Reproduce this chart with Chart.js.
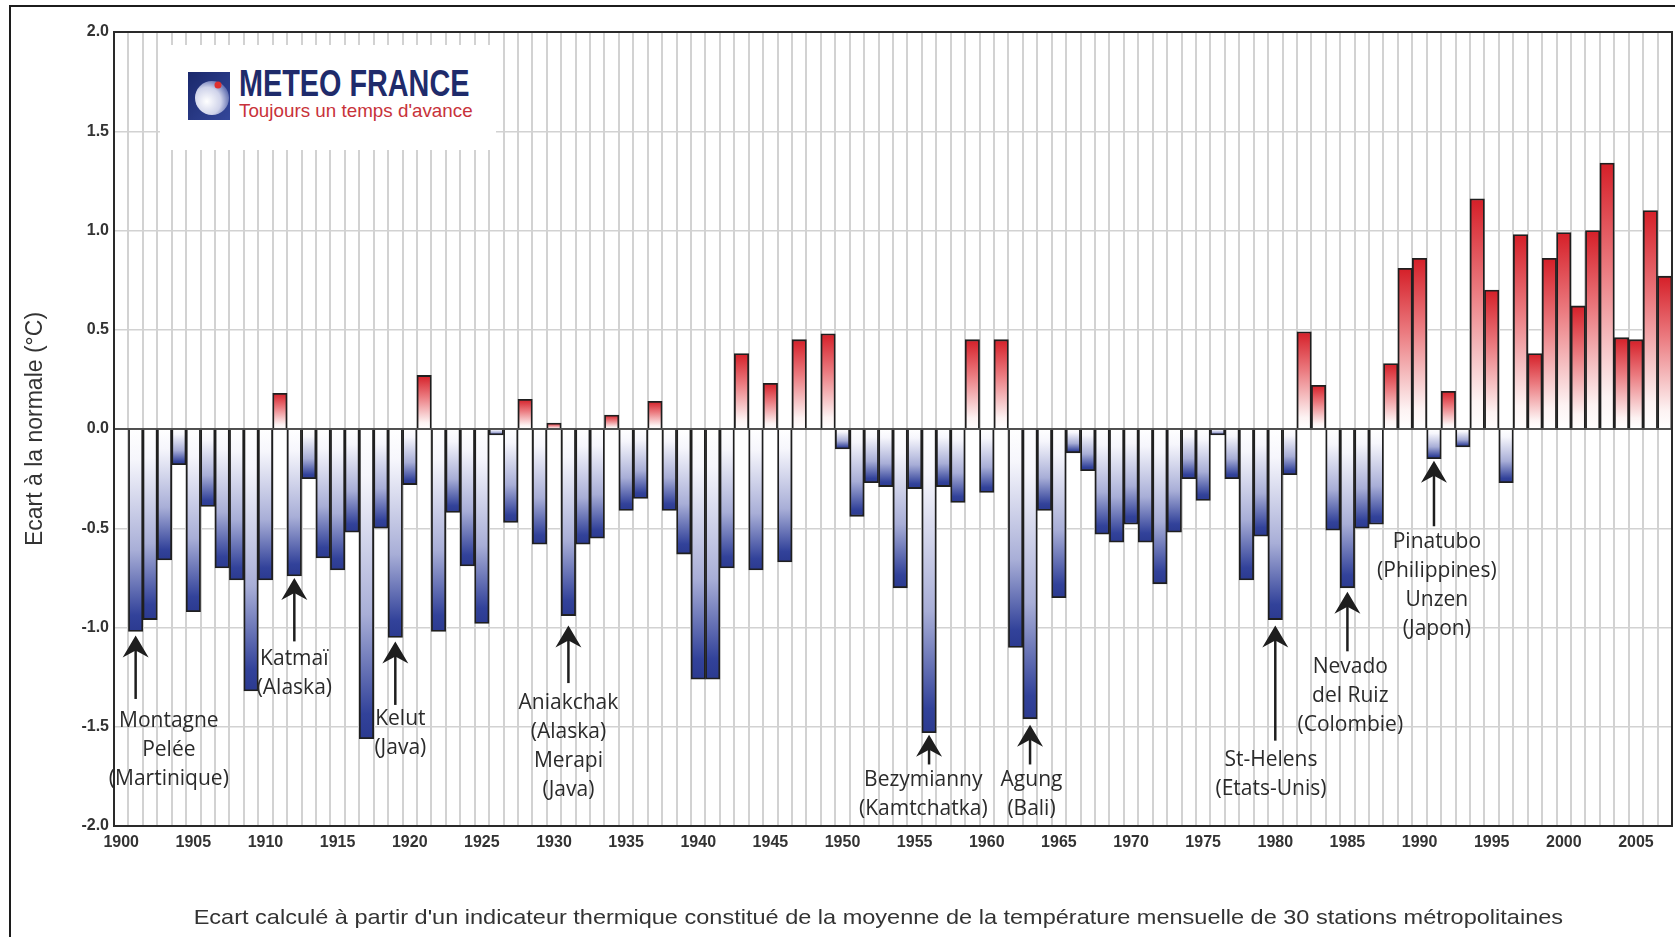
<!DOCTYPE html>
<html lang="fr">
<head>
  <meta charset="UTF-8">
  <title>Ecart à la normale de la température en France, 1900-2007</title>
  <script src="https://cdn.jsdelivr.net/npm/chart.js"></script>
  <style>
    body {
      margin: 0;
      background: #fff;
      font-family: Arial, "Liberation Sans", sans-serif;
    }
    #wrap {
      position: relative;
      width: 1675px;
      height: 937px;
      overflow: hidden;
    }
    #chart {
      position: absolute;
      left: 0;
      top: 0;
    }
    #frame {
      position: absolute;
      left: 9px;
      top: 5px;
      width: 1700px;
      height: 960px;
      border-left: 2px solid #1c1c1c;
      border-top: 2px solid #1c1c1c;
      pointer-events: none;
    }
    #logo {
      position: absolute;
      left: 160px;
      top: 45px;
      width: 336px;
      height: 105px;
      background: #fff;
    }
    #logo svg {
      position: absolute;
      left: 28px;
      top: 27px;
    }
    #logo .name {
      position: absolute;
      left: 79px;
      top: 21px;
      font: bold 36px Arial, "Liberation Sans", sans-serif;
      line-height: 36px;
      color: #1f2b6b;
      white-space: nowrap;
      transform: scaleX(0.8);
      transform-origin: left top;
    }
    #logo .motto {
      position: absolute;
      left: 79px;
      top: 55px;
      font: 19px Arial, "Liberation Sans", sans-serif;
      line-height: 22px;
      color: #c8323a;
      white-space: nowrap;
      transform: scaleX(0.99);
      transform-origin: left top;
    }
    #footer {
      position: absolute;
      left: 0;
      width: 1757px;
      top: 904px;
      text-align: center;
      font-size: 21px;
      line-height: 25px;
      color: #333;
      white-space: nowrap;
    }
    #footer span {
      display: inline-block;
      transform: scaleX(1.12);
      transform-origin: center top;
    }
  </style>
</head>
<body>
  <div id="wrap">
    <canvas id="chart" width="1675" height="937"></canvas>
    <div id="frame"></div>
    <div id="logo">
      <svg width="42" height="48" viewBox="0 0 42 48">
        <defs>
          <linearGradient id="sq" x1="0" y1="0" x2="1" y2="1">
            <stop offset="0" stop-color="#1a286b"/>
            <stop offset="1" stop-color="#34479a"/>
          </linearGradient>
          <radialGradient id="ball" cx="0.35" cy="0.6" r="0.75">
            <stop offset="0" stop-color="#ffffff"/>
            <stop offset="0.55" stop-color="#cfd3ea"/>
            <stop offset="1" stop-color="#3e4f9e"/>
          </radialGradient>
        </defs>
        <rect width="42" height="48" fill="url(#sq)"/>
        <circle cx="24" cy="26" r="17" fill="url(#ball)"/>
        <circle cx="30" cy="13" r="3.5" fill="#e0312f"/>
      </svg>
      <div class="name">METEO FRANCE</div>
      <div class="motto">Toujours un temps d'avance</div>
    </div>
    <div id="footer"><span>Ecart calculé à partir d'un indicateur thermique constitué de la moyenne de la température mensuelle de 30 stations métropolitaines</span></div>
  </div>

  <script>
    // years shown on the x axis, one bar each
    const years = [
      1900, 1901, 1902, 1903, 1904, 1905, 1906, 1907, 1908, 1909,
      1910, 1911, 1912, 1913, 1914, 1915, 1916, 1917, 1918, 1919,
      1920, 1921, 1922, 1923, 1924, 1925, 1926, 1927, 1928, 1929,
      1930, 1931, 1932, 1933, 1934, 1935, 1936, 1937, 1938, 1939,
      1940, 1941, 1942, 1943, 1944, 1945, 1946, 1947, 1948, 1949,
      1950, 1951, 1952, 1953, 1954, 1955, 1956, 1957, 1958, 1959,
      1960, 1961, 1962, 1963, 1964, 1965, 1966, 1967, 1968, 1969,
      1970, 1971, 1972, 1973, 1974, 1975, 1976, 1977, 1978, 1979,
      1980, 1981, 1982, 1983, 1984, 1985, 1986, 1987, 1988, 1989,
      1990, 1991, 1992, 1993, 1994, 1995, 1996, 1997, 1998, 1999,
      2000, 2001, 2002, 2003, 2004, 2005, 2006, 2007
    ];

    // écart à la normale (°C)
    const anomalies = [
      0, -1.02, -0.96, -0.66, -0.18, -0.92, -0.39, -0.70, -0.76, -1.32,
      -0.76, 0.18, -0.74, -0.25, -0.65, -0.71, -0.52, -1.56, -0.50, -1.05,
      -0.28, 0.27, -1.02, -0.42, -0.69, -0.98, -0.03, -0.47, 0.15, -0.58,
      0.03, -0.94, -0.58, -0.55, 0.07, -0.41, -0.35, 0.14, -0.41, -0.63,
      -1.26, -1.26, -0.70, 0.38, -0.71, 0.23, -0.67, 0.45, 0, 0.48,
      -0.10, -0.44, -0.27, -0.29, -0.80, -0.30, -1.53, -0.29, -0.37, 0.45,
      -0.32, 0.45, -1.10, -1.46, -0.41, -0.85, -0.12, -0.21, -0.53, -0.57,
      -0.48, -0.57, -0.78, -0.52, -0.25, -0.36, -0.03, -0.25, -0.76, -0.54,
      -0.96, -0.23, 0.49, 0.22, -0.51, -0.80, -0.50, -0.48, 0.33, 0.81,
      0.86, -0.15, 0.19, -0.09, 1.16, 0.70, -0.27, 0.98, 0.38, 0.86,
      0.99, 0.62, 1.00, 1.34, 0.46, 0.45, 1.10, 0.77
    ];

    const xTickLabels = ['1900', '1905', '1910', '1915', '1920', '1925', '1930', '1935', '1940', '1945', '1950',
      '1955', '1960', '1965', '1970', '1975', '1980', '1985', '1990', '1995', '2000', '2005'];
    const yTickLabels = ['-2.0', '-1.5', '-1.0', '-0.5', '0.0', '0.5', '1.0', '1.5', '2.0'];

    // eruptions pointed at on the figure (arrow and label in data units)
    const volcanoes = [
      { year: 1901, tip: -1.04, tail: -1.36, labelYear: 1903.3, labelAt: -1.47, lines: ['Montagne', 'Pelée', '(Martinique)'] },
      { year: 1912, tip: -0.75, tail: -1.07, labelYear: 1912.0, labelAt: -1.16, lines: ['Katmaï', '(Alaska)'] },
      { year: 1919, tip: -1.07, tail: -1.39, labelYear: 1919.35, labelAt: -1.46, lines: ['Kelut', '(Java)'] },
      { year: 1931, tip: -0.99, tail: -1.28, labelYear: 1931.0, labelAt: -1.38, lines: ['Aniakchak', '(Alaska)', 'Merapi', '(Java)'] },
      { year: 1956, tip: -1.54, tail: -1.69, labelYear: 1955.6, labelAt: -1.77, lines: ['Bezymianny', '(Kamtchatka)'] },
      { year: 1963, tip: -1.49, tail: -1.69, labelYear: 1963.1, labelAt: -1.77, lines: ['Agung', '(Bali)'] },
      { year: 1980, tip: -0.99, tail: -1.57, labelYear: 1979.7, labelAt: -1.67, lines: ['St-Helens', '(Etats-Unis)'] },
      { year: 1985, tip: -0.82, tail: -1.12, labelYear: 1985.2, labelAt: -1.20, lines: ['Nevado', 'del Ruiz', '(Colombie)'] },
      { year: 1991, tip: -0.16, tail: -0.49, labelYear: 1991.2, labelAt: -0.57, lines: ['Pinatubo', '(Philippines)', 'Unzen', '(Japon)'] }
    ];

    // white at the zero line, full colour at the end of the bar
    function barFill(context) {
      const chart = context.chart;
      if (!chart.chartArea || context.type !== 'data') return '#ffffff';
      const v = context.raw;
      const ys = chart.scales.y;
      const y0 = ys.getPixelForValue(0);
      const y1 = ys.getPixelForValue(v);
      if (Math.abs(y1 - y0) < 1) return '#ffffff';
      const g = chart.ctx.createLinearGradient(0, y0, 0, y1);
      if (v > 0) {
        g.addColorStop(0, '#ffffff');
        g.addColorStop(0.12, '#fdf3f3');
        g.addColorStop(0.6, '#eb7b80');
        g.addColorStop(1, '#d51f28');
      } else {
        g.addColorStop(0, '#ffffff');
        g.addColorStop(0.15, '#f6f6fc');
        g.addColorStop(0.6, '#a8aed7');
        g.addColorStop(0.92, '#32429a');
        g.addColorStop(1, '#2b3a90');
      }
      return g;
    }

    const overlayPlugin = {
      id: 'overlay',
      afterDatasetsDraw(chart) {
        const { ctx, chartArea: area, scales: { x: xs, y: ys } } = chart;
        ctx.save();

        // zero line over the bar bases
        const y0 = ys.getPixelForValue(0);
        ctx.strokeStyle = '#222';
        ctx.lineWidth = 1.5;
        ctx.beginPath();
        ctx.moveTo(area.left, y0);
        ctx.lineTo(area.right, y0);
        ctx.stroke();

        // plot frame
        ctx.lineWidth = 2;
        ctx.strokeStyle = '#2a2a2a';
        ctx.strokeRect(area.left, area.top, area.right - area.left, area.bottom - area.top);

        // arrows + labels
        volcanoes.forEach(v => {
          const x = xs.getPixelForValue(v.year - years[0]);
          const yTip = ys.getPixelForValue(v.tip);
          const yTail = ys.getPixelForValue(v.tail);
          ctx.strokeStyle = '#1e1e1e';
          ctx.fillStyle = '#1e1e1e';
          ctx.lineWidth = 2.5;
          ctx.beginPath();
          ctx.moveTo(x, yTail);
          ctx.lineTo(x, yTip + 12);
          ctx.stroke();
          ctx.beginPath();
          ctx.moveTo(x, yTip);
          ctx.lineTo(x + 13, yTip + 22);
          ctx.lineTo(x, yTip + 15);
          ctx.lineTo(x - 13, yTip + 22);
          ctx.closePath();
          ctx.fill();

          const lx = xs.getPixelForValue(v.labelYear - years[0]);
          const ly = ys.getPixelForValue(v.labelAt);
          ctx.font = '21px "Open Sans", "Noto Sans", sans-serif';
          ctx.fillStyle = '#2b2b2b';
          ctx.textAlign = 'center';
          ctx.textBaseline = 'middle';
          v.lines.forEach((t, i) => ctx.fillText(t, lx, ly + i * 29));
        });
        ctx.restore();
      }
    };

    new Chart(document.getElementById('chart'), {
      type: 'bar',
      data: {
        labels: years,
        datasets: [{
          data: anomalies,
          backgroundColor: barFill,
          borderColor: '#1f1f1f',
          borderWidth: 1.8,
          borderSkipped: 'start',
          categoryPercentage: 1,
          barPercentage: 1
        }]
      },
      options: {
        responsive: false,
        animation: false,
        devicePixelRatio: 1,
        layout: { padding: { top: 32, right: 3, left: 0, bottom: 0 } },
        plugins: {
          legend: { display: false },
          tooltip: { enabled: false }
        },
        scales: {
          x: {
            grid: { offset: true, color: '#d2d2d2', lineWidth: 2, drawTicks: false },
            border: { display: false },
            ticks: {
              autoSkip: false,
              maxRotation: 0,
              padding: 7,
              color: '#333',
              font: { family: 'Arial', weight: 'bold', size: 16 },
              callback(value) {
                const label = String(this.getLabelForValue(value));
                return xTickLabels.includes(label) ? label : '';
              }
            },
            afterFit(scale) { scale.height = 111; }
          },
          y: {
            min: -2,
            max: 2,
            grid: { color: '#d2d2d2', lineWidth: 1.5, drawTicks: false },
            border: { display: false },
            ticks: {
              stepSize: 0.5,
              padding: 5,
              color: '#333',
              font: { family: 'Arial', weight: 'bold', size: 16 },
              callback: (value, index) => yTickLabels[index]
            },
            title: {
              display: true,
              text: 'Ecart à la normale (°C)',
              color: '#333',
              font: { family: 'Arial', size: 23 },
              padding: { top: 22, bottom: 0 }
            },
            afterFit(scale) { scale.width = 114; }
          }
        }
      },
      plugins: [overlayPlugin]
    });
  </script>
</body>
</html>
